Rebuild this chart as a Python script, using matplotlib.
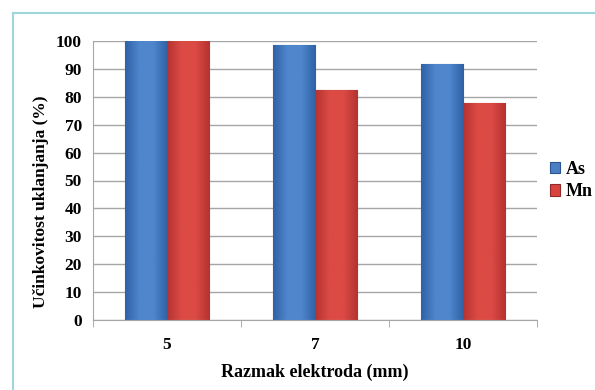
import numpy as np
import matplotlib.pyplot as plt
from matplotlib.colors import LinearSegmentedColormap
from matplotlib.patches import Rectangle

# Podaci
razmak = ['5', '7', '10']
arsen = [100, 98.6, 91.6]
mangan = [100, 82.5, 77.6]

plt.rcParams['font.family'] = ['Liberation Serif', 'DejaVu Serif']
plt.rcParams['font.weight'] = 'bold'

fig = plt.figure(figsize=(5.95, 3.9), dpi=100)
ax = fig.add_axes([93/595, 1 - 320/390, (537 - 93)/595, (320 - 41)/390])

# Okvir oko grafikona
fig.patches.append(Rectangle((13/595, -0.1), 1.1, 1 - 13/390 + 0.1,
                             transform=fig.transFigure, fill=False,
                             edgecolor='#9fd6de', linewidth=1.5))

x = np.arange(len(razmak))
w = 0.287

def gradijent(bars, svijetla, tamna, rub):
    cmap = LinearSegmentedColormap.from_list('g', [tamna, svijetla, svijetla, tamna])
    grad = np.linspace(0, 1, 64).reshape(1, -1)
    for b in bars:
        b.set_edgecolor(rub)
        b.set_linewidth(0.8)
        x0, y0 = b.get_x(), b.get_y()
        im = ax.imshow(grad, cmap=cmap, aspect='auto', zorder=2.5,
                       extent=[x0, x0 + b.get_width(), y0, y0 + b.get_height()])
        im.set_clip_path(b)

b1 = ax.bar(x - w/2, arsen, w, color='#4a7fc4', label='As', zorder=2)
b2 = ax.bar(x + w/2, mangan, w, color='#d9433f', label='Mn', zorder=2)
gradijent(b1, '#4f86cc', '#2f62a6', '#2a5590')
gradijent(b2, '#dc4a44', '#b53331', '#8f2a28')

ax.set_xlim(-0.5, 2.5)
ax.set_ylim(0, 100)
ax.set_yticks(range(0, 101, 10))
ax.set_xticks(x)
ax.set_xticklabels(razmak, fontsize=12.5, fontweight='bold')
ax.set_xticks([-0.5, 0.5, 1.5, 2.5], minor=True)
ax.tick_params(axis='x', which='major', length=0, pad=12)
ax.tick_params(axis='x', which='minor', length=5, color='#a0a0a0')
ax.tick_params(axis='y', length=0, labelsize=12.5, pad=8)
for t in ax.get_yticklabels():
    t.set_fontweight('bold')

ax.grid(axis='y', color='#a6a6a6', linewidth=1, zorder=0)
ax.set_axisbelow(True)
for s in ['top', 'right']:
    ax.spines[s].set_visible(False)
ax.spines['left'].set_color('#a6a6a6')
ax.spines['bottom'].set_color('#a6a6a6')

ax.set_xlabel('Razmak elektroda (mm)', fontsize=13, fontweight='bold', labelpad=8)
ax.set_ylabel('Učinkovitost uklanjanja (%)', fontsize=12.5, fontweight='bold')
ax.yaxis.set_label_coords(-0.098, 0.423)

ax.legend(loc='center left', bbox_to_anchor=(1.0, 0.5), frameon=False,
          prop={'size': 13, 'weight': 'bold'}, handlelength=0.6, handleheight=0.6,
          handletextpad=0.3, borderaxespad=0.3, labelspacing=0.3)

fig.savefig('out.png', dpi=100)
